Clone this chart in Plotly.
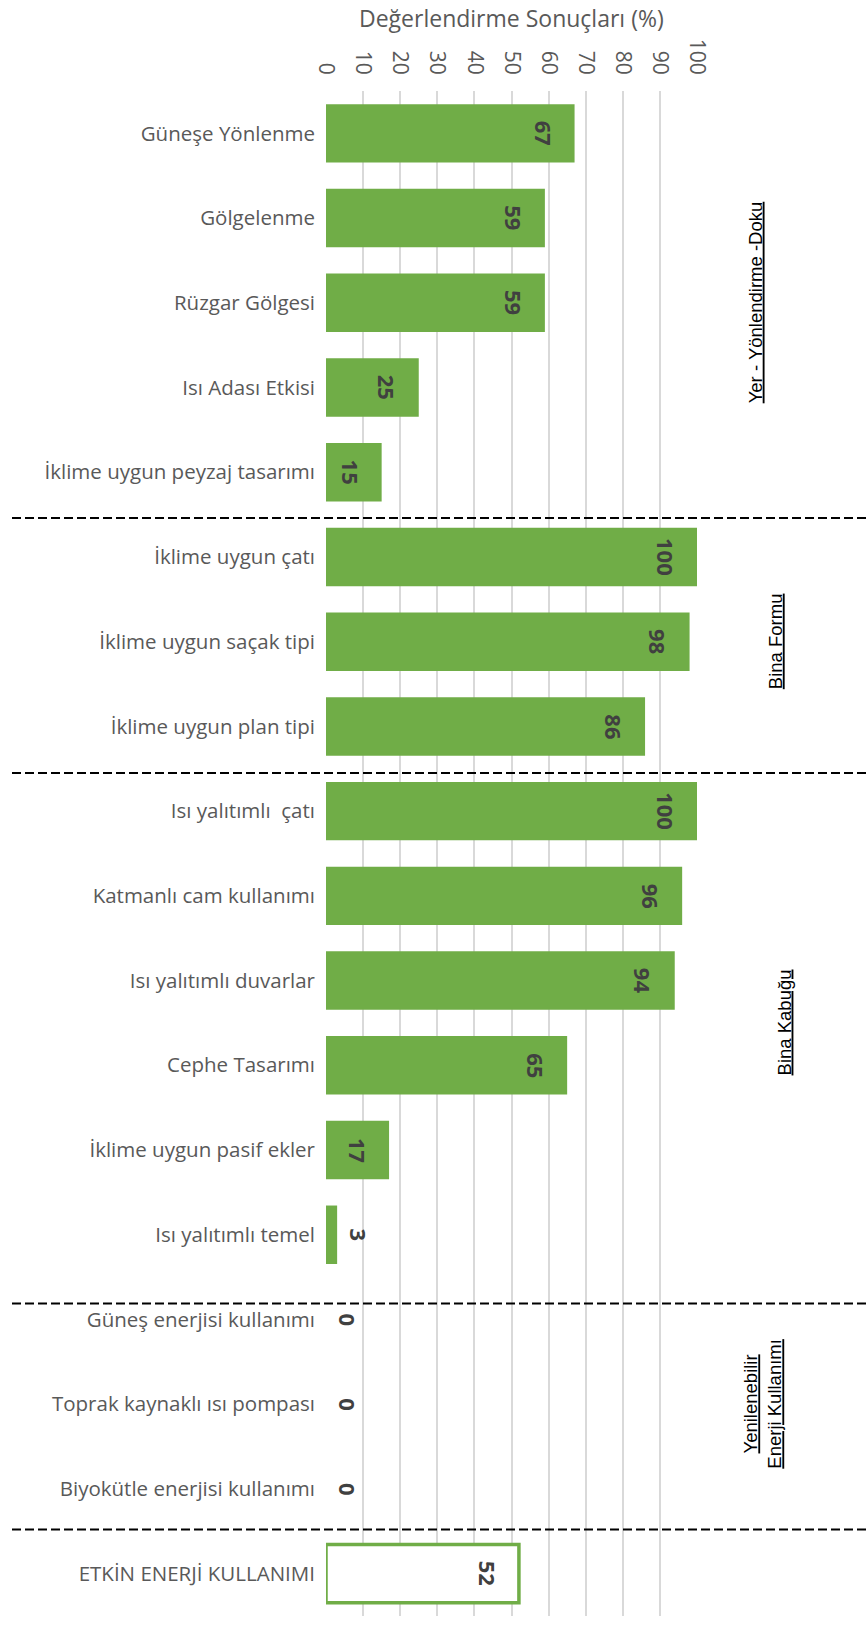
import plotly.graph_objects as go

# ---- data ----
groups = ["Yer - Yönlendirme -Doku", "Bina Formu", "Bina Kabuğu", "Yenilenebilir<br>Enerji Kullanımı"]
group_sizes = [5, 3, 6, 3]
categories = [
    "Güneşe Yönlenme", "Gölgelenme", "Rüzgar Gölgesi", "Isı Adası Etkisi",
    "İklime uygun peyzaj tasarımı",
    "İklime uygun çatı", "İklime uygun saçak tipi", "İklime uygun plan tipi",
    "Isı yalıtımlı  çatı", "Katmanlı cam kullanımı", "Isı yalıtımlı duvarlar",
    "Cephe Tasarımı", "İklime uygun pasif ekler", "Isı yalıtımlı temel",
    "Güneş enerjisi kullanımı", "Toprak kaynaklı ısı pompası", "Biyokütle enerjisi kullanımı",
]
values = [67, 59, 59, 25, 15, 100, 98, 86, 100, 96, 94, 65, 17, 3, 0, 0, 0]
total_category = ["ETKİN ENERJİ KULLANIMI"]
total_value = [52]
x_ticks = [0, 10, 20, 30, 40, 50, 60, 70, 80, 90, 100]

# ---- style ----
GREEN = "#70AD47"
GREY_TXT = "#595959"
VAL_TXT = "#404040"
W, H = 867, 1633
ML, MR, MT, MB = 326, 170, 91, 17
PW = W - ML - MR
PH = H - MT - MB
group_label_px = [768, 788, 797, 787]
separator_nudge = [0.04, 0.05, 0.31, -0.02]
INSIDE_SHIFT = -31
OUTSIDE_SHIFT = 22
VAL_FONT = dict(family="Open Sans", size=22, color=VAL_TXT, weight=700)

all_cats = categories + total_category
n = len(all_cats)


def px_to_paper_x(px):
    return (px - ML) / PW


fig = go.Figure()
fig.add_trace(go.Bar(
    y=categories, x=values, orientation="h",
    marker=dict(color=GREEN, line=dict(width=0)),
    hoverinfo="skip", showlegend=False,
))
fig.add_trace(go.Bar(
    y=total_category, x=total_value, orientation="h",
    marker=dict(color="white", line=dict(color=GREEN, width=3.5)),
    hoverinfo="skip", showlegend=False,
))

annotations = []
# value labels (Excel-like: inside end, rotated)
for cat, v in zip(all_cats, values + total_value):
    annotations.append(dict(
        text=str(v), x=v, y=cat, xref="x", yref="y", showarrow=False,
        textangle=90, xanchor="center", yanchor="middle",
        xshift=INSIDE_SHIFT if v >= 10 else OUTSIDE_SHIFT,
        font=VAL_FONT,
    ))

# dashed separators between groups + group labels
shapes = []
b = 0
start = 0
for g, s, gx, nudge in zip(groups, group_sizes, group_label_px, separator_nudge):
    b += s
    shapes.append(dict(type="line", xref="paper", yref="y",
                       x0=px_to_paper_x(12), x1=px_to_paper_x(W),
                       y0=b - 0.5 + nudge, y1=b - 0.5 + nudge,
                       line=dict(color="black", width=2, dash="9px,4px")))
    center = start + (s - 1) / 2
    txt = "<br>".join("<u>%s</u>" % part for part in g.split("<br>"))
    annotations.append(dict(text=txt, xref="paper", yref="y", x=px_to_paper_x(gx), y=center,
                            showarrow=False, textangle=-90, align="center",
                            font=dict(family="Liberation Sans", size=18.5, color="black")))
    start += s

annotations.append(dict(text="Değerlendirme Sonuçları (%)", xref="paper", yref="paper",
                        x=0.5, y=1 + (MT - 18) / PH, showarrow=False, yanchor="middle",
                        font=dict(family="Open Sans", size=23, color=GREY_TXT)))

fig.update_layout(
    width=W, height=H, margin=dict(l=ML, r=MR, t=MT, b=MB),
    plot_bgcolor="white", paper_bgcolor="white",
    barmode="overlay", bargap=0.31,
    shapes=shapes, annotations=annotations,
    xaxis=dict(side="top", range=[0, 100], tickvals=x_ticks, tickangle=90,
               showgrid=True, gridcolor="#D9D9D9", gridwidth=2, zeroline=False,
               showline=False, ticks="", ticklabelstandoff=12, automargin=False,
               tickfont=dict(family="Open Sans", size=21, color=GREY_TXT)),
    yaxis=dict(type="category", categoryorder="array", categoryarray=all_cats,
               range=[n - 0.5, -0.5], showgrid=False, zeroline=False, showline=False,
               ticks="", ticklabelstandoff=10, automargin=False,
               tickfont=dict(family="Open Sans", size=20.5, color=GREY_TXT)),
)

fig.write_html("out.html", config={"displayModeBar": False},
               post_script="document.body.style.margin='0';")
